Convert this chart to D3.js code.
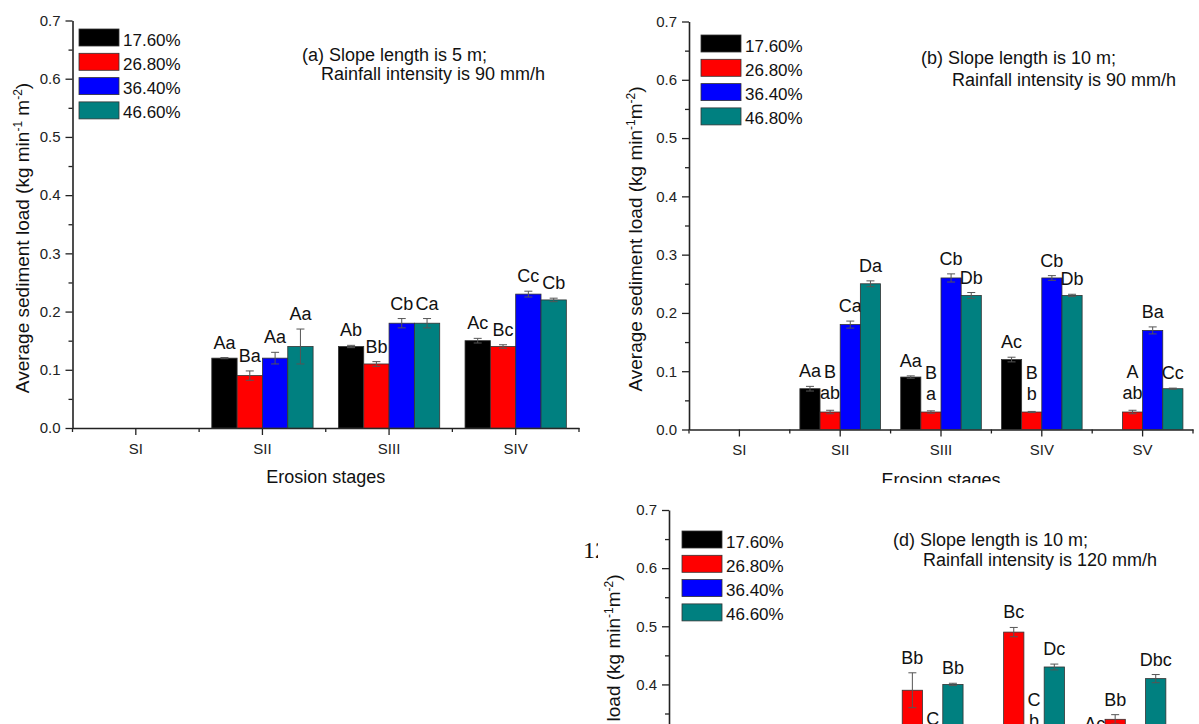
<!DOCTYPE html>
<meta charset="utf-8">
<style>
body { margin: 0; background: #fff; }
svg { display: block; font-family: Arial, "Liberation Sans", sans-serif; }
.axis path { stroke: #222; stroke-width: 1.6px; }
.axis line { stroke: #222; stroke-width: 1.3px; }
.axis text { font-size: 15px; fill: #222; font-family: Arial, "Liberation Sans", sans-serif; }
.bar { stroke: #333; stroke-width: 0.8px; }
.err { stroke: #555; stroke-width: 1px; }
.lab { font-size: 18px; fill: #111; text-anchor: middle; }
.leg { font-size: 17px; fill: #111; }
.ttl { font-size: 18px; fill: #111; }
</style>
<body>
<script src="https://d3js.org/d3.v7.min.js"></script>
<script>

// categories
var stages4 = ["SI", "SII", "SIII", "SIV"];
var stages5 = ["SI", "SII", "SIII", "SIV", "SV"];
var slopesA = ["17.60%", "26.80%", "36.40%", "46.60%"];
var slopesB = ["17.60%", "26.80%", "36.40%", "46.80%"];
var slopesD = ["17.60%", "26.80%", "36.40%", "46.60%"];
var barColors = ["#000000", "#ff0000", "#0000ff", "#008080"];
var yTicks = [0, 0.1, 0.2, 0.3, 0.4, 0.5, 0.6, 0.7];
var yMinor = [0.05, 0.15, 0.25, 0.35, 0.45, 0.55, 0.65];

// (a) 5 m, 90 mm/h  -- rows = stages, cols = slopes
var meanA = [[null, null, null, null],
             [0.12, 0.09, 0.12, 0.14],
             [0.14, 0.11, 0.18, 0.18],
             [0.15, 0.14, 0.23, 0.22]];
var errA  = [[0, 0, 0, 0],
             [0.001, 0.008, 0.01, 0.03],
             [0.002, 0.004, 0.008, 0.008],
             [0.004, 0.003, 0.005, 0.003]];
var labelA = [[null, null, null, null],
              ["Aa", "Ba", "Aa", "Aa"],
              ["Ab", "Bb", "Cb", "Ca"],
              ["Ac", "Bc", "Cc", "Cb"]];

// (b) 10 m, 90 mm/h
var meanB = [[null, null, null, null],
             [0.07, 0.03, 0.18, 0.25],
             [0.09, 0.03, 0.26, 0.23],
             [0.12, 0.03, 0.26, 0.23],
             [null, 0.03, 0.17, 0.07]];
var errB  = [[0, 0, 0, 0],
             [0.004, 0.003, 0.006, 0.005],
             [0.002, 0.002, 0.007, 0.005],
             [0.004, 0.001, 0.004, 0.002],
             [0, 0.003, 0.006, 0.001]];
var labelB = [[null, null, null, null],
              ["Aa", ["B", "ab"], "Ca", "Da"],
              ["Aa", ["B", "a"], "Cb", "Db"],
              ["Ac", ["B", "b"], "Cb", "Db"],
              [null, ["A", "ab"], "Ba", "Cc"]];

// (d) 10 m, 120 mm/h (lower part of the panel is cut off)
var meanD = [[null, null, null, null],
             [null, null, null, null],
             [null, 0.39, 0.31, 0.40],
             [null, 0.49, 0.30, 0.43],
             [0.30, 0.34, null, 0.41]];
var errD  = [[0, 0, 0, 0],
             [0, 0, 0, 0],
             [0, 0.03, 0.005, 0.002],
             [0, 0.008, 0.008, 0.005],
             [0.006, 0.008, 0, 0.007]];
var labelD = [[null, null, null, null],
              [null, null, null, null],
              [null, "Bb", "C", "Bb"],
              [null, "Bc", ["C", "b"], "Dc"],
              ["Ac", "Bb", null, "Dbc"]];

var svg = d3.select("body").append("svg")
    .attr("width", 1199)
    .attr("height", 724);

function drawPanel(p) {
  var g = svg.append("g");

  var x = d3.scaleBand().domain(p.stages).range([p.left, p.right]);
  var bw = x.bandwidth();
  var xs = d3.scaleBand().domain([0, 1, 2, 3]).range([bw * 0.1, bw * 0.9]);
  var y = d3.scaleLinear().domain([0, 0.7]).range([p.y0, p.y7]);

  // y axis, major + minor ticks
  g.append("g").attr("class", "axis")
      .attr("transform", "translate(" + p.left + ",0)")
      .call(d3.axisLeft(y).tickValues(yTicks).tickSize(7).tickSizeOuter(0)
            .tickPadding(5).tickFormat(d3.format(".1f")));
  g.append("g").attr("class", "axis")
      .attr("transform", "translate(" + p.left + ",0)")
      .call(d3.axisLeft(y).tickValues(yMinor).tickSize(4).tickFormat(""))
      .select(".domain").remove();

  // x axis
  g.append("g").attr("class", "axis")
      .attr("transform", "translate(0," + p.y0 + ")")
      .call(d3.axisBottom(x).tickSize(7).tickSizeOuter(0).tickPadding(8));
  g.append("g").attr("class", "axis")
      .selectAll("line")
      .data(p.stages.map(function(s) { return x(s); }).concat([p.right]))
      .enter().append("line")
      .attr("x1", function(d) { return d; })
      .attr("x2", function(d) { return d; })
      .attr("y1", p.y0)
      .attr("y2", p.y0 + 4);

  // bars
  p.stages.forEach(function(s, i) {
    p.means[i].forEach(function(v, j) {
      if (v == null) return;
      var e = p.errs[i][j];
      var bx = x(s) + xs(j);
      var cx = bx + xs.bandwidth() / 2;
      g.append("rect").attr("class", "bar")
          .attr("x", bx).attr("y", y(v))
          .attr("width", xs.bandwidth())
          .attr("height", y(0) - y(v))
          .attr("fill", barColors[j]);
      if (e > 0) {
        g.append("line").attr("class", "err")
            .attr("x1", cx).attr("x2", cx)
            .attr("y1", y(v - e)).attr("y2", y(v + e));
        [v - e, v + e].forEach(function(t) {
          g.append("line").attr("class", "err")
              .attr("x1", cx - 4).attr("x2", cx + 4)
              .attr("y1", y(t)).attr("y2", y(t));
        });
      }
      var lab = p.labels[i][j];
      if (lab == null) return;
      var top = y(v + e);
      if (Array.isArray(lab)) {
        lab.forEach(function(t, k) {
          g.append("text").attr("class", "lab")
              .attr("x", cx)
              .attr("y", top - 11 - (lab.length - 1 - k) * 21)
              .text(t);
        });
      } else {
        g.append("text").attr("class", "lab")
            .attr("x", cx).attr("y", top - 9)
            .text(lab);
      }
    });
  });

  // legend
  var leg = g.append("g").selectAll("g")
      .data(p.legend)
      .enter().append("g");
  leg.append("rect")
      .attr("x", p.legX)
      .attr("y", function(d, i) { return p.legY + i * 24.3; })
      .attr("width", 40)
      .attr("height", 17)
      .attr("fill", function(d, i) { return barColors[i]; })
      .attr("stroke", "#333")
      .attr("stroke-width", 0.8);
  leg.append("text").attr("class", "leg")
      .attr("x", p.legX + 44)
      .attr("y", function(d, i) { return p.legY + i * 24.3 + 16.5; })
      .text(function(d) { return d; });

  // panel title
  p.title.forEach(function(t, k) {
    g.append("text").attr("class", "ttl")
        .attr("x", p.titleX[k]).attr("y", p.titleY[k])
        .text(t);
  });

  // axis titles
  var yt = g.append("text")
      .attr("text-anchor", "middle")
      .attr("font-size", 19)
      .attr("fill", "#111")
      .attr("transform", "translate(" + p.yTitleX + "," + p.yTitleY + ")rotate(-90)");
  yt.append("tspan").text("Average sediment load (kg min");
  yt.append("tspan").attr("font-size", 12).attr("dy", -7).text("-1");
  yt.append("tspan").attr("dy", 7).text(p.gap ? " m" : "m");
  yt.append("tspan").attr("font-size", 12).attr("dy", -7).text("-2");
  yt.append("tspan").attr("dy", 7).text(")");

  g.append("text")
      .attr("text-anchor", "middle")
      .attr("font-size", 18)
      .attr("fill", "#111")
      .attr("x", (p.left + p.right) / 2)
      .attr("y", p.xTitleY)
      .text("Erosion stages");
}

drawPanel({
  stages: stages4, means: meanA, errs: errA, labels: labelA, legend: slopesA,
  left: 72.5, right: 579, y0: 428, y7: 20.5,
  legX: 79, legY: 29,
  title: ["(a) Slope length is 5 m;", "Rainfall intensity is 90 mm/h"],
  titleX: [302, 321], titleY: [61, 80],
  yTitleX: 29, yTitleY: 238, gap: true, xTitleY: 483
});

drawPanel({
  stages: stages5, means: meanB, errs: errB, labels: labelB, legend: slopesB,
  left: 689, right: 1193, y0: 429.5, y7: 21.5,
  legX: 701, legY: 35,
  title: ["(b) Slope length is 10 m;", "Rainfall intensity is 90 mm/h"],
  titleX: [921, 952], titleY: [64, 86],
  yTitleX: 642, yTitleY: 239, gap: false, xTitleY: 486
});

// stray text of the page behind the lower figure
svg.append("text")
    .attr("x", 583).attr("y", 558)
    .attr("font-family", "'Liberation Serif', 'Times New Roman', serif")
    .attr("font-size", 24)
    .attr("fill", "#111")
    .text("12");

// lower figure sits on its own white sheet
svg.append("rect")
    .attr("x", 598).attr("y", 483)
    .attr("width", 601).attr("height", 241)
    .attr("fill", "#fff");

drawPanel({
  stages: stages5, means: meanD, errs: errD, labels: labelD, legend: slopesD,
  left: 669, right: 1176, y0: 917, y7: 510,
  legX: 682, legY: 531,
  title: ["(d) Slope length is 10 m;", "Rainfall intensity is 120 mm/h"],
  titleX: [893, 923], titleY: [546, 566],
  yTitleX: 620, yTitleY: 727, gap: false, xTitleY: 972
});

</script>
</body>
